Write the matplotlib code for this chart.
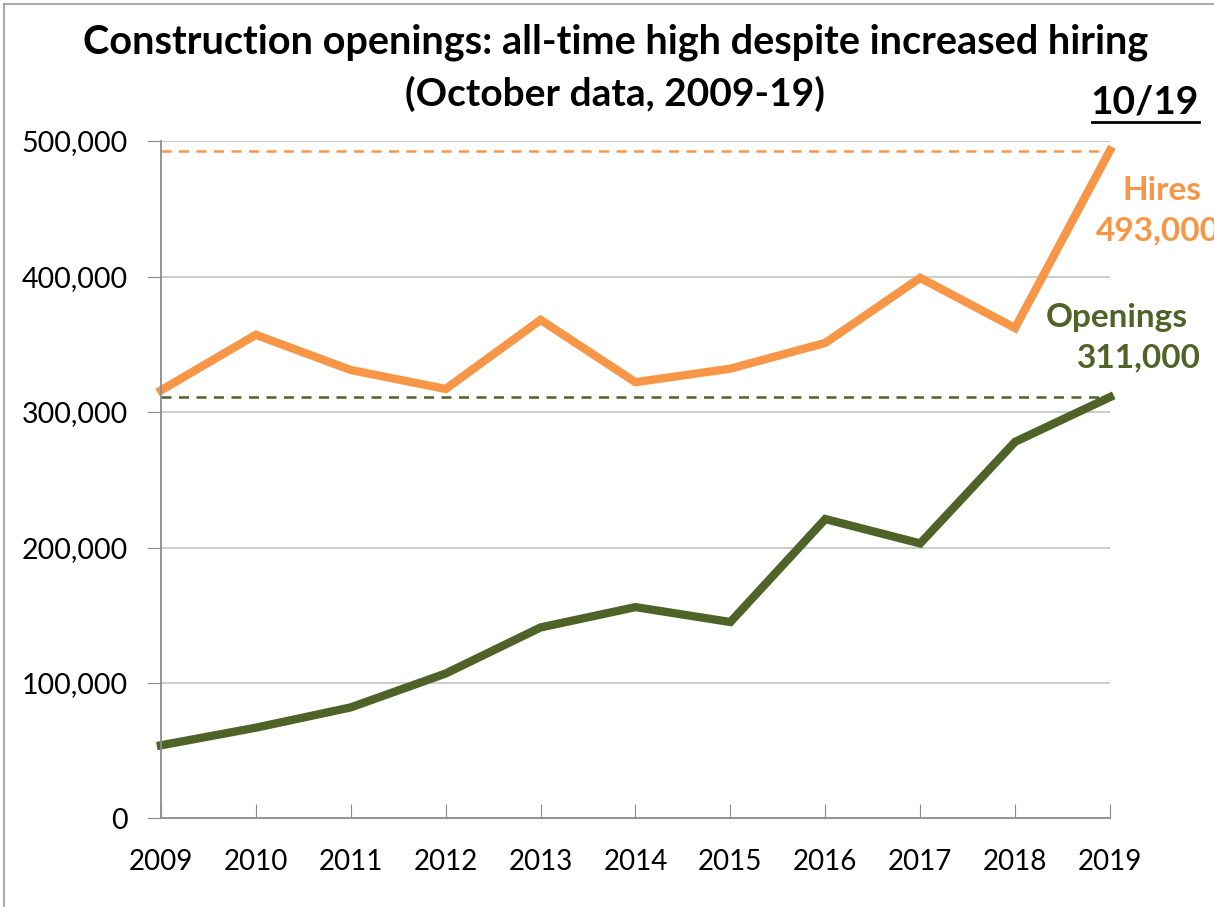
import matplotlib.pyplot as plt
from matplotlib.lines import Line2D

years = [2009, 2010, 2011, 2012, 2013, 2014, 2015, 2016, 2017, 2018, 2019]
hires = [316000, 357000, 331000, 317000, 368000, 322000, 332000, 351000, 399000, 362000, 493000]
openings = [54000, 67000, 82000, 107000, 141000, 156000, 145000, 221000, 203000, 278000, 311000]
yticks = [0, 100000, 200000, 300000, 400000, 500000]

orange = "#F79646"
green = "#4F6228"
plt.rcParams['font.family'] = ['Lato', 'DejaVu Sans']

fig = plt.figure(figsize=(12.14, 9.07), dpi=100)
ax = fig.add_axes([0.1326, 0.0976, 0.7817, 0.7469])

ax.set_xlim(years[0], years[-1])
ax.set_ylim(0, 500000)
ax.set_yticks(yticks)
ax.set_yticklabels([f"{v:,}" for v in yticks], fontsize=20.5)
ax.set_xticks(years)
ax.set_xticklabels([str(y) for y in years], fontsize=20)
ax.grid(axis='y', color='#c8c8c8', linewidth=1.3)
ax.set_axisbelow(True)
for s in ['top', 'right']:
    ax.spines[s].set_visible(False)
for s in ['left', 'bottom']:
    ax.spines[s].set_color('#8c8c8c')
    ax.spines[s].set_linewidth(1.3)
ax.tick_params(axis='y', direction='out', length=10, color='#8c8c8c', pad=14)
ax.tick_params(axis='x', direction='in', length=10, color='#8c8c8c', pad=22)

ax.axhline(hires[-1], color=orange, linestyle=(0, (4, 3)), linewidth=1.8)
ax.axhline(openings[-1], color=green, linestyle=(0, (4, 3)), linewidth=1.8)
ax.plot(years, hires, color=orange, linewidth=6, clip_on=False, solid_joinstyle='miter')
ax.plot(years, openings, color=green, linewidth=6, clip_on=False, solid_joinstyle='miter')

lab = dict(transform=fig.transFigure, ha='center', va='center', fontsize=24, fontweight='bold')
ax.text(1162 / 1214, (907 - 190) / 907, "Hires", color=orange, **lab)
ax.text(1158 / 1214, (907 - 231) / 907, f"{hires[-1]:,}", color=orange, **lab)
ax.text(1117 / 1214, (907 - 318) / 907, "Openings", color=green, **lab)
ax.text(1139 / 1214, (907 - 358) / 907, f"{openings[-1]:,}", color=green, **lab)

fig.text(0.507, (907 - 42) / 907, "Construction openings: all-time high despite increased hiring",
         ha='center', va='center', fontsize=28.5, fontweight='bold')
fig.text(0.507, (907 - 94) / 907, "(October data, 2009-19)",
         ha='center', va='center', fontsize=28, fontweight='bold')
fig.text(1145 / 1214, (907 - 102) / 907, "10/19", ha='center', va='center', fontsize=28, fontweight='bold')

fig.add_artist(Line2D([1092 / 1214, 1199 / 1214], [(907 - 122) / 907] * 2, color='black', linewidth=2,
                      transform=fig.transFigure))
fig.add_artist(Line2D([4 / 1214, 4 / 1214], [0, (907 - 4) / 907], color='#9a9a9a', linewidth=1.2,
                      transform=fig.transFigure))
fig.add_artist(Line2D([4 / 1214, 1], [(907 - 4) / 907] * 2, color='#9a9a9a', linewidth=1.2,
                      transform=fig.transFigure))

fig.savefig("out.png", dpi=100)
